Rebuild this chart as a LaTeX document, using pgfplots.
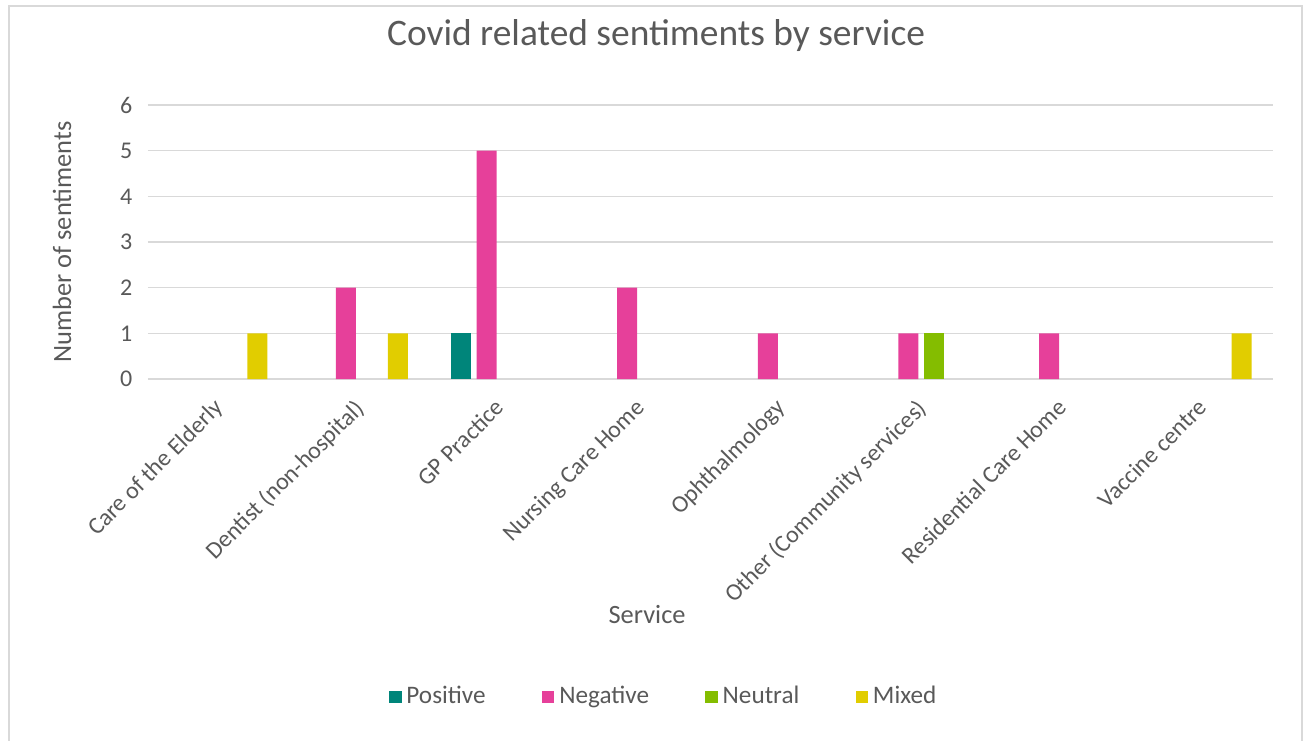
\documentclass[border=0pt]{standalone}
\usepackage{pgfplots}
\pgfplotsset{compat=1.18}
\usepackage{fontspec}
\setmainfont{Carlito}
\definecolor{txt}{HTML}{595959}
\definecolor{gridc}{HTML}{D9D9D9}
\definecolor{cpos}{HTML}{00857A}
\definecolor{cneg}{HTML}{E6409A}
\definecolor{cneu}{HTML}{84BD00}
\definecolor{cmix}{HTML}{E1CD00}
\newcommand{\px}{0.41667pt}
\begin{document}
\begin{tikzpicture}
\path[use as bounding box] (0,0) rectangle (1304*\px,-740*\px);
\draw[gridc, line width=0.8pt] (9*\px,-745*\px) -- (9*\px,-6*\px) -- (1302*\px,-6*\px) -- (1302*\px,-745*\px);
\begin{axis}[
  at={(148*\px,-379*\px)}, anchor=south west,
  scale only axis,
  width=1125*\px, height=274*\px,
  ybar=2.5pt, bar width=8.33pt,
  xmin=-0.5, xmax=7.5, ymin=0, ymax=6,
  xtick={0,...,7},
  xticklabels={Care of the Elderly, Dentist (non-hospital), GP Practice, Nursing Care Home, Ophthalmology, Other (Community services), Residential Care Home, Vaccine centre},
  ytick={0,...,6},
  ymajorgrids, xmajorgrids=false,
  grid style={draw=gridc, line width=0.6pt},
  separate axis lines,
  axis x line*=bottom, axis y line*=left,
  x axis line style={draw=gridc, line width=0.6pt, -},
  y axis line style={draw=none},
  major tick length=0pt,
  tick style={draw=none},
  tick label style={font=\fontsize{10}{12}\selectfont, text=txt},
  /pgf/number format/assume math mode=true,
  xticklabel style={xshift=-2.5pt, yshift=-6pt, rotate=45, anchor=north east, inner sep=1pt},
  yticklabel style={xshift=-3pt},
  xlabel={Service}, ylabel={Number of sentiments},
  label style={font=\fontsize{11}{13}\selectfont, text=txt},
  xlabel style={at={(axis description cs:0.4436,-0.858)}, anchor=center},
  ylabel style={at={(axis description cs:-0.0764,0.5)}, anchor=center, rotate=0},
  title={Covid related sentiments by service},
  title style={at={(axis description cs:0.4516,1.2007)}, anchor=center, font=\fontsize{15.6}{18}\selectfont, text=txt},
  legend columns=4,
  legend style={at={(axis description cs:0.4597,-1.1606)}, anchor=center, draw=none, fill=none,
    font=\fontsize{10.5}{12}\selectfont, text=txt, /tikz/every even column/.append style={column sep=21.5pt},
    inner sep=0pt},
  legend image code/.code={\fill[#1] (0pt,-2.6pt) rectangle (5.2pt,2.6pt);},
]
\addplot[fill=cpos, draw=none] coordinates {(2,1)};
\addplot[fill=cneg, draw=none] coordinates {(1,2) (2,5) (3,2) (4,1) (5,1) (6,1)};
\addplot[fill=cneu, draw=none] coordinates {(5,1)};
\addplot[fill=cmix, draw=none] coordinates {(0,1) (1,1) (7,1)};
\legend{Positive, Negative, Neutral, Mixed}
\end{axis}
\end{tikzpicture}
\end{document}
